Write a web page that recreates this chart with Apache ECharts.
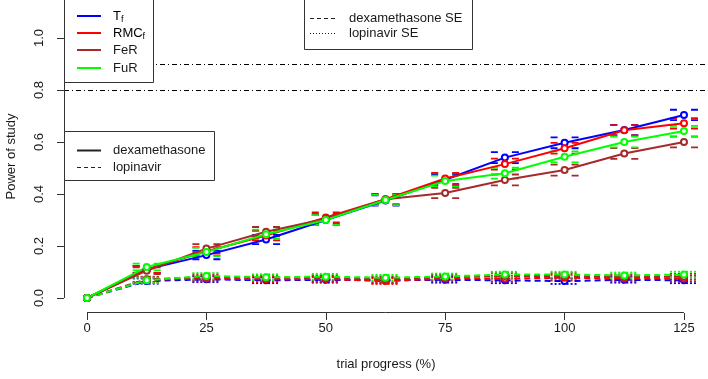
<!DOCTYPE html>
<html><head><meta charset="utf-8">
<script src="https://cdn.jsdelivr.net/npm/echarts@6/dist/echarts.min.js"></script>
<style>html,body{margin:0;padding:0;background:#fff}#c{width:708px;height:379px}</style>
</head><body><div id="c"></div>
<script>
// ---------- data ----------
const progress = [0, 12.5, 25, 37.5, 50, 62.5, 75, 87.5, 100, 112.5, 125];
const xTicks = [0, 25, 50, 75, 100, 125];
const yTicks = [0, 0.2, 0.4, 0.6, 0.8, 1.0];
const targetPower = [0.8, 0.9];
const methodNames = ['Tf', 'RMCf', 'FeR', 'FuR'];
const methodColors = ['#0000FF', '#FF0000', '#A52A2A', '#00FF00'];

const dexTf   = [0, 0.110, 0.165, 0.225, 0.300, 0.375, 0.455, 0.540, 0.597, 0.646, 0.704];
const dexRMCf = [0, 0.110, 0.180, 0.240, 0.310, 0.380, 0.460, 0.515, 0.576, 0.645, 0.672];
const dexFeR  = [0, 0.105, 0.190, 0.255, 0.305, 0.380, 0.404, 0.454, 0.492, 0.556, 0.600];
const dexFuR  = [0, 0.119, 0.177, 0.245, 0.300, 0.377, 0.450, 0.480, 0.543, 0.600, 0.642];

const dexSeTf   = [0, 0.013, 0.016, 0.018, 0.019, 0.020, 0.021, 0.021, 0.021, 0.020, 0.020];
const dexSeRMCf = [0, 0.013, 0.016, 0.018, 0.019, 0.020, 0.021, 0.021, 0.021, 0.020, 0.020];
const dexSeFeR  = [0, 0.013, 0.017, 0.018, 0.019, 0.020, 0.020, 0.021, 0.021, 0.021, 0.021];
const dexSeFuR  = [0, 0.013, 0.016, 0.018, 0.019, 0.020, 0.021, 0.021, 0.021, 0.021, 0.020];

const lopTf   = [0, 0.065, 0.072, 0.068, 0.070, 0.068, 0.070, 0.068, 0.065, 0.070, 0.068];
const lopRMCf = [0, 0.070, 0.075, 0.072, 0.073, 0.065, 0.075, 0.075, 0.078, 0.075, 0.075];
const lopFeR  = [0, 0.072, 0.080, 0.078, 0.077, 0.072, 0.080, 0.085, 0.085, 0.080, 0.082];
const lopFuR  = [0, 0.068, 0.085, 0.080, 0.082, 0.078, 0.083, 0.090, 0.090, 0.087, 0.090];

const lopSeTf   = [0, 0.010, 0.011, 0.011, 0.011, 0.011, 0.011, 0.011, 0.011, 0.011, 0.011];
const lopSeRMCf = [0, 0.010, 0.011, 0.011, 0.011, 0.011, 0.011, 0.011, 0.011, 0.011, 0.011];
const lopSeFeR  = [0, 0.010, 0.011, 0.011, 0.011, 0.011, 0.011, 0.011, 0.011, 0.011, 0.011];
const lopSeFuR  = [0, 0.010, 0.011, 0.011, 0.011, 0.011, 0.011, 0.011, 0.011, 0.011, 0.011];

// ---------- chart ----------
const FONT = '"Liberation Sans", Arial, sans-serif';
const X_MIN = -4.816, X_MAX = 130.03, Y_MIN = -0.0577, Y_MAX = 1.1462;

const dexVals = [dexTf, dexRMCf, dexFeR, dexFuR];
const dexSes = [dexSeTf, dexSeRMCf, dexSeFeR, dexSeFuR];
const lopVals = [lopTf, lopRMCf, lopFeR, lopFuR];
const lopSes = [lopSeTf, lopSeRMCf, lopSeFeR, lopSeFuR];

function lineSeries(name, vals, color, dashed) {
  return {
    type: 'line', name, data: progress.map((x, i) => [x, vals[i]]),
    symbol: 'emptyCircle', symbolSize: 6, showSymbol: true,
    lineStyle: { color, width: 2, type: dashed ? [6, 4] : 'solid' },
    itemStyle: { color, borderColor: color, borderWidth: 1.2 },
    emphasis: { disabled: true }, silent: true, animation: false, clip: false
  };
}
function capSeries(name, vals, se, color, dash) {
  return {
    type: 'custom', name, silent: true, animation: false, clip: false,
    data: progress.map((x, i) => [x, vals[i], se[i]]),
    renderItem: (params, api) => {
      const x = api.value(0), v = api.value(1), s = api.value(2);
      if (!s) return null;
      const up = api.coord([x, v + s]), lo = api.coord([x, v - s]);
      const w = 14;
      const st = { stroke: color, lineWidth: 1.8, lineDash: dash };
      return { type: 'group', children: [
        { type: 'line', shape: { x1: up[0] - w, y1: up[1], x2: up[0] + w, y2: up[1] }, style: st },
        { type: 'line', shape: { x1: lo[0] - w, y1: lo[1], x2: lo[0] + w, y2: lo[1] }, style: st }
      ]};
    }
  };
}

const series = [];
for (let k = 0; k < 4; k++) {
  series.push(capSeries('lopSE' + k, lopVals[k], lopSes[k], methodColors[k], [2, 2]));
  series.push(lineSeries('lop' + k, lopVals[k], methodColors[k], true));
}
for (let k = 0; k < 4; k++) {
  series.push(capSeries('dexSE' + k, dexVals[k], dexSes[k], methodColors[k], [7, 14]));
  series.push(lineSeries('dex' + k, dexVals[k], methodColors[k], false));
}
// reference power lines
series.push({
  type: 'line', name: 'ref', data: [], silent: true, animation: false,
  markLine: {
    silent: true, symbol: 'none', label: { show: false }, animation: false,
    lineStyle: { color: '#000', width: 1, type: [5, 3, 1, 3] },
    data: targetPower.map(v => ({ yAxis: v }))
  }
});

const txt = { fontFamily: FONT, fontSize: 13, fill: '#1a1a1a' };
function legendLine(x1, x2, y, color, dash) {
  return { type: 'line', shape: { x1, y1: y, x2, y2: y }, style: { stroke: color, lineWidth: dash === 'solid' ? 2 : 1, lineDash: dash === 'solid' ? null : dash }, z: 101 };
}
const graphics = [];
// top-left legend (methods)
graphics.push({ type: 'rect', shape: { x: 64.5, y: -0.5, width: 89, height: 83 }, style: { fill: '#fff', stroke: '#333', lineWidth: 1 }, z: 100 });
const mY = [16, 33, 50, 68];
for (let k = 0; k < 4; k++) {
  graphics.push({ type: 'line', shape: { x1: 77, y1: mY[k], x2: 101, y2: mY[k] }, style: { stroke: methodColors[k], lineWidth: 2 }, z: 101 });
}
const subRich = { m: { fontFamily: FONT, fontSize: 13, color: '#1a1a1a' }, s: { fontFamily: FONT, fontSize: 9, color: '#1a1a1a', padding: [7, 0, 0, 0] } };
graphics.push({ type: 'text', style: { x: 113, y: mY[0], text: '{m|T}{s|f}', rich: subRich, verticalAlign: 'middle', font: '13px ' + FONT }, z: 101 });
graphics.push({ type: 'text', style: { x: 113, y: mY[1], text: '{m|RMC}{s|f}', rich: subRich, verticalAlign: 'middle', font: '13px ' + FONT }, z: 101 });
graphics.push({ type: 'text', style: Object.assign({ x: 113, y: mY[2], text: 'FeR', verticalAlign: 'middle' }, txt), z: 101 });
graphics.push({ type: 'text', style: Object.assign({ x: 113, y: mY[3], text: 'FuR', verticalAlign: 'middle' }, txt), z: 101 });
// top-center legend (SE)
graphics.push({ type: 'rect', shape: { x: 304.5, y: -0.5, width: 168, height: 50 }, style: { fill: '#fff', stroke: '#333', lineWidth: 1 }, z: 100 });
graphics.push(legendLine(310, 337, 18.5, '#222', [4, 3]));
graphics.push(legendLine(310, 337, 33.5, '#222', [1, 2]));
graphics.push({ type: 'text', style: Object.assign({ x: 349, y: 18, text: 'dexamethasone SE', verticalAlign: 'middle' }, txt), z: 101 });
graphics.push({ type: 'text', style: Object.assign({ x: 349, y: 33, text: 'lopinavir SE', verticalAlign: 'middle' }, txt), z: 101 });
// middle-left legend (drug)
graphics.push({ type: 'rect', shape: { x: 64.5, y: 131.5, width: 150, height: 49 }, style: { fill: '#fff', stroke: '#333', lineWidth: 1 }, z: 100 });
graphics.push(legendLine(77, 101, 150.5, '#222', 'solid'));
graphics.push(legendLine(77, 101, 167.5, '#222', [4, 3]));
graphics.push({ type: 'text', style: Object.assign({ x: 113, y: 150, text: 'dexamethasone', verticalAlign: 'middle' }, txt), z: 101 });
graphics.push({ type: 'text', style: Object.assign({ x: 113, y: 167, text: 'lopinavir', verticalAlign: 'middle' }, txt), z: 101 });

const chart = echarts.init(document.getElementById('c'), null, { renderer: 'canvas' });
const option = {
  animation: false,
  backgroundColor: '#fff',
  grid: { left: 64, right: 0, top: 0, bottom: 66, containLabel: false, outerBoundsMode: 'none' },
  xAxis: {
    type: 'value', min: X_MIN, max: X_MAX,
    axisLine: { show: false, onZero: false }, splitLine: { show: false },
    axisTick: { show: true, customValues: xTicks, length: 7, inside: false, lineStyle: { color: '#333', width: 1 } },
    axisLabel: { customValues: xTicks, margin: 9, fontFamily: FONT, fontSize: 13, color: '#1a1a1a' },
    name: 'trial progress (%)', nameLocation: 'middle', nameGap: 45,
    nameTextStyle: { fontFamily: FONT, fontSize: 13, color: '#1a1a1a' }
  },
  yAxis: {
    type: 'value', min: Y_MIN, max: Y_MAX,
    axisLine: { show: false, onZero: false }, splitLine: { show: false },
    axisTick: { show: true, customValues: yTicks, length: 7, inside: false, lineStyle: { color: '#333', width: 1 } },
    axisLabel: { customValues: yTicks, rotate: 90, margin: 18, fontFamily: FONT, fontSize: 13, color: '#1a1a1a',
      formatter: v => v.toFixed(1) },
    name: 'Power of study', nameLocation: 'middle', nameGap: 46, nameRotate: 90,
    nameTextStyle: { fontFamily: FONT, fontSize: 13, color: '#1a1a1a' }
  },
  series,
  graphic: graphics
};
chart.setOption(option);
// R-style axis lines spanning the tick range, placed through the chart's own scales
const px0 = chart.convertToPixel({ gridIndex: 0 }, [xTicks[0], Y_MIN]);
const px1 = chart.convertToPixel({ gridIndex: 0 }, [xTicks[xTicks.length - 1], Y_MIN]);
const py0 = chart.convertToPixel({ gridIndex: 0 }, [X_MIN, yTicks[0]]);
const py1 = chart.convertToPixel({ gridIndex: 0 }, [X_MIN, Y_MAX]);
graphics.push({ type: 'line', shape: { x1: px0[0], y1: Math.round(px0[1]) - 0.5, x2: px1[0], y2: Math.round(px1[1]) - 0.5 }, style: { stroke: '#333', lineWidth: 1 }, z: 50 });
graphics.push({ type: 'line', shape: { x1: Math.round(py0[0]) + 0.5, y1: py0[1], x2: Math.round(py1[0]) + 0.5, y2: py1[1] }, style: { stroke: '#333', lineWidth: 1 }, z: 50 });
chart.setOption({ graphic: graphics });
</script>
</body></html>
